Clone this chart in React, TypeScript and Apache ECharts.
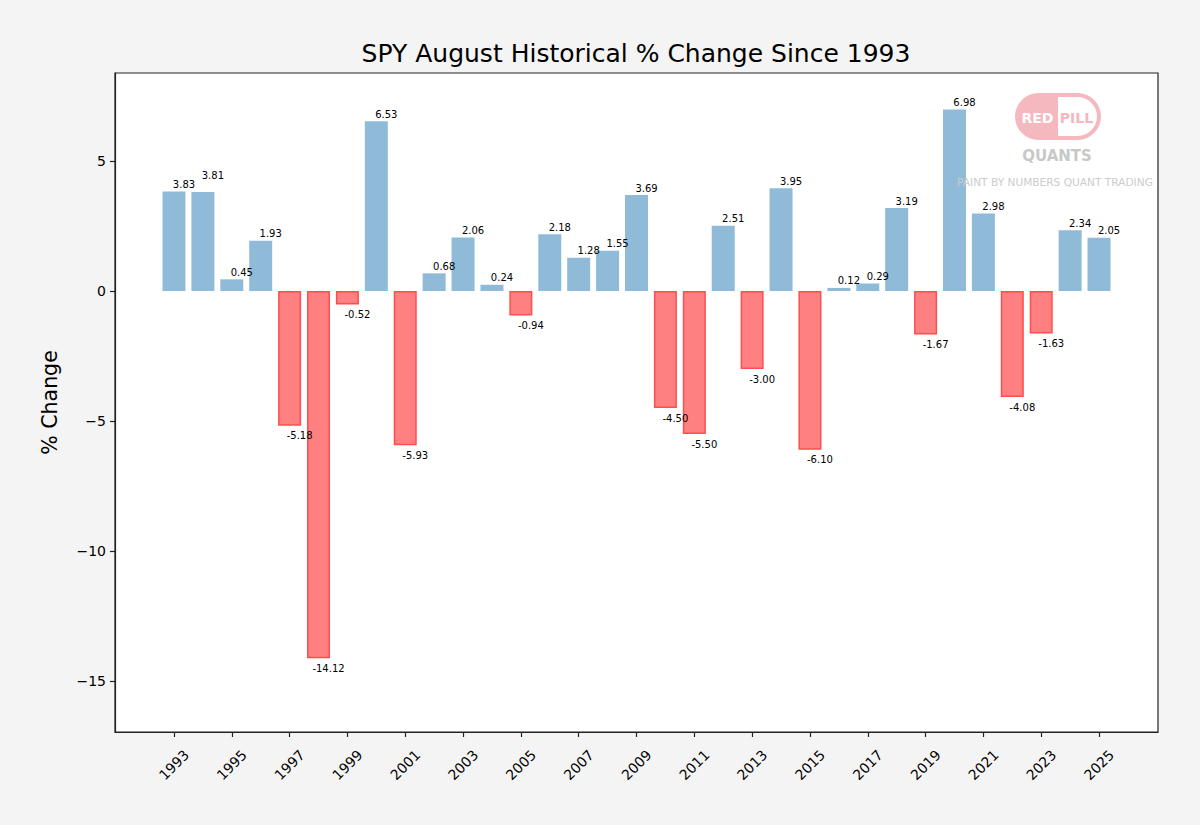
import React, { useEffect, useRef } from "react";
import * as echarts from "echarts";

const years: number[] = [
  1993, 1994, 1995, 1996, 1997, 1998, 1999, 2000, 2001, 2002, 2003, 2004, 2005, 2006, 2007, 2008, 2009,
  2010, 2011, 2012, 2013, 2014, 2015, 2016, 2017, 2018, 2019, 2020, 2021, 2022, 2023, 2024, 2025,
];
const changes: number[] = [
  3.83, 3.81, 0.45, 1.93, -5.18, -14.12, -0.52, 6.53, -5.93, 0.68, 2.06, 0.24, -0.94, 2.18, 1.28, 1.55, 3.69,
  -4.5, -5.5, 2.51, -3.0, 3.95, -6.1, 0.12, 0.29, 3.19, -1.67, 6.98, 2.98, -4.08, -1.63, 2.34, 2.05,
];
const xTickYears: number[] = [
  1993, 1995, 1997, 1999, 2001, 2003, 2005, 2007, 2009, 2011, 2013, 2015, 2017, 2019, 2021, 2023, 2025,
];
const yTicks: number[] = [-15, -10, -5, 0, 5];
const raisedLabelYears: number[] = [1994];

const FONT = "DejaVu Sans";

export default function App() {
  const ref = useRef<HTMLDivElement>(null);
  useEffect(() => {
    if (!ref.current) return;
    const chart = echarts.init(ref.current, null, { renderer: "svg" });
    const data = years.map((y, i) => {
      const v = changes[i];
      const pos = v >= 0;
      const raised = raisedLabelYears.includes(y);
      return {
        value: [y, v],
        itemStyle: pos
          ? { color: "#8fbbd9", borderWidth: 0 }
          : { color: "#ff8080", borderColor: "#ff4d4d", borderWidth: 1.5 },
        label: {
          show: true,
          position: pos ? "top" : "bottom",
          distance: pos ? 2 : 5,
          offset: [10, raised ? -9 : 0],
          formatter: v.toFixed(2),
          fontSize: 10,
          fontFamily: FONT,
          color: "#000",
        },
      };
    });
    chart.setOption({
      animation: false,
      backgroundColor: "#f4f4f4",
      textStyle: { fontFamily: FONT },
      grid: {
        left: 115,
        top: 73,
        right: 42,
        bottom: 93,
        show: true,
        backgroundColor: "#ffffff",
        borderColor: "#222222",
        borderWidth: 1.2,
      },
      xAxis: {
        type: "value",
        min: 1990.96,
        max: 2027.04,
        splitLine: { show: false },
        axisLine: { show: true, onZero: false, lineStyle: { color: "#222", width: 1.2 } },
        axisTick: {
          show: true,
          length: 5,
          customValues: xTickYears,
          lineStyle: { color: "#222", width: 1.2 },
        },
        axisLabel: {
          customValues: xTickYears,
          rotate: 45,
          align: "center",
          verticalAlign: "middle",
          margin: 33,
          fontSize: 14,
          fontFamily: FONT,
          color: "#000",
          formatter: (v: number) => String(v),
        },
      },
      yAxis: {
        type: "value",
        min: -16.96,
        max: 8.385,
        splitLine: { show: false },
        axisLine: { show: true, lineStyle: { color: "#222", width: 1.2 } },
        axisTick: {
          show: true,
          length: 5,
          customValues: yTicks,
          lineStyle: { color: "#222", width: 1.2 },
        },
        axisLabel: {
          customValues: yTicks,
          fontSize: 14,
          fontFamily: FONT,
          color: "#000",
          margin: 9,
          formatter: (v: number) => String(v).replace("-", "\u2212"),
        },
        name: "% Change",
        nameLocation: "middle",
        nameGap: 55,
        nameRotate: 90,
        nameTextStyle: { fontSize: 20.5, fontFamily: FONT, color: "#000" },
      },
      graphic: [
        {
          type: "text",
          x: 636,
          y: 53,
          style: {
            text: "SPY August Historical % Change Since 1993",
            fontSize: 25,
            fontFamily: FONT,
            fill: "#000",
            align: "center",
            verticalAlign: "middle",
          },
        },
        {
          type: "rect",
          shape: { x: 1015, y: 93, width: 86, height: 47, r: 23.5 },
          style: { fill: "#f4b8be" },
          z: 100,
        },
        {
          type: "rect",
          shape: { x: 1058, y: 97, width: 39, height: 39, r: [0, 19.5, 19.5, 0] },
          style: { fill: "#ffffff" },
          z: 101,
        },
        {
          type: "text",
          x: 1037.5,
          y: 117.5,
          style: {
            text: "RED",
            fontSize: 14,
            fontWeight: "bold",
            fontFamily: FONT,
            fill: "#ffffff",
            align: "center",
            verticalAlign: "middle",
          },
          z: 102,
        },
        {
          type: "text",
          x: 1076.5,
          y: 117.5,
          style: {
            text: "PILL",
            fontSize: 14,
            fontWeight: "bold",
            fontFamily: FONT,
            fill: "#f4b8be",
            align: "center",
            verticalAlign: "middle",
          },
          z: 102,
        },
        {
          type: "text",
          x: 1057,
          y: 156,
          style: {
            text: "QUANTS",
            fontSize: 15,
            fontWeight: "bold",
            fontFamily: FONT,
            fill: "#c8c8c8",
            align: "center",
            verticalAlign: "middle",
          },
          z: 102,
        },
        {
          type: "text",
          x: 1055,
          y: 182,
          style: {
            text: "PAINT BY NUMBERS QUANT TRADING",
            fontSize: 10.6,
            fontFamily: FONT,
            fill: "#cccccc",
            align: "center",
            verticalAlign: "middle",
          },
          z: 102,
        },
      ],
      series: [
        {
          type: "bar",
          data,
          barWidth: 23,
          barGap: "-100%",
        },
      ],
    });
    return () => chart.dispose();
  }, []);
  return (
    <div
      ref={ref}
      style={{ position: "fixed", left: 0, top: 0, width: 1200, height: 825 }}
    />
  );
}
